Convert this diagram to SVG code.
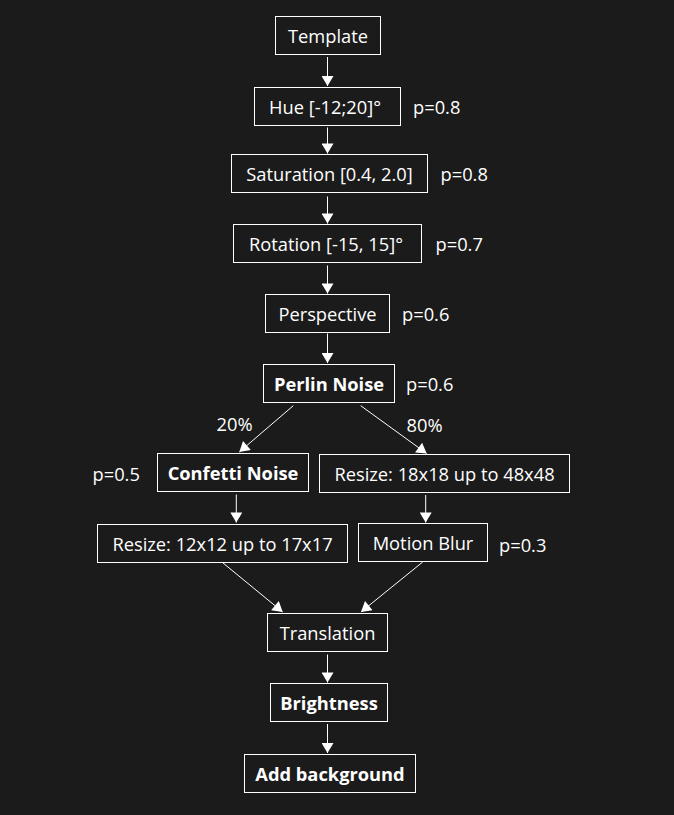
<svg xmlns="http://www.w3.org/2000/svg" width="674" height="815" viewBox="0 0 674 815">
<defs>
<style>
.bg{fill:#1b1b1b}
.node rect{fill:none;stroke:#ffffff;stroke-width:1}
text{font-family:"Open Sans","Noto Sans","Liberation Sans",sans-serif;font-size:18.3px;fill:#ffffff}
.node text{text-anchor:middle}
.b text{font-weight:bold}
.edges line{stroke:#ffffff;stroke-width:1;marker-end:url(#ah)}
</style>
<marker id="ah" markerUnits="userSpaceOnUse" markerWidth="12" markerHeight="12" viewBox="0 0 10 12" refX="10" refY="6" orient="auto">
<path d="M0,0 L10,6 L0,12 Z" fill="#ffffff"/>
</marker>
</defs>
<rect class="bg" x="0" y="0" width="674" height="815"/>
<g class="edges">
<line x1="327.5" y1="57" x2="327.5" y2="86"/>
<line x1="327.5" y1="127.5" x2="327.5" y2="153.5"/>
<line x1="327.5" y1="196.5" x2="327.5" y2="223.5"/>
<line x1="327.5" y1="265.5" x2="327.5" y2="293.5"/>
<line x1="327.5" y1="333.5" x2="327.5" y2="363"/>
<line x1="293.3" y1="405.7" x2="239.3" y2="452"/>
<line x1="360.7" y1="405.7" x2="426.7" y2="453.5"/>
<line x1="236.3" y1="494.5" x2="236.3" y2="522.5"/>
<line x1="425.7" y1="495" x2="425.7" y2="522.5"/>
<line x1="222.7" y1="562.7" x2="282.7" y2="612"/>
<line x1="422.7" y1="562" x2="361" y2="612"/>
<line x1="327.5" y1="654.5" x2="327.5" y2="682.5"/>
<line x1="327.5" y1="724" x2="327.5" y2="753"/>
</g>
<g id="template" class="node"><rect x="275.5" y="16.5" width="105" height="38"/><text x="328" y="42.5">Template</text></g>
<g id="hue" class="node"><rect x="254.5" y="87.5" width="146" height="38"/><text x="325" y="113.5">Hue [-12;20]°</text></g>
<g id="saturation" class="node"><rect x="231.5" y="154.5" width="196" height="38"/><text x="329.5" y="180.5">Saturation [0.4, 2.0]</text></g>
<g id="rotation" class="node"><rect x="233.5" y="224.5" width="188" height="38"/><text x="326" y="250.5">Rotation [-15, 15]°</text></g>
<g id="perspective" class="node"><rect x="265.5" y="294.5" width="124" height="38"/><text x="327.5" y="320.5">Perspective</text></g>
<g id="perlin" class="node b"><rect x="263.5" y="364.5" width="131" height="38"/><text x="329" y="390.5">Perlin Noise</text></g>
<g id="confetti" class="node b"><rect x="157.5" y="453.5" width="151" height="38"/><text x="233" y="479.5">Confetti Noise</text></g>
<g id="resize18" class="node"><rect x="319.5" y="454.5" width="250" height="38"/><text x="444.5" y="480.5">Resize: 18x18 up to 48x48</text></g>
<g id="resize12" class="node"><rect x="97.5" y="524.5" width="250" height="38"/><text x="222.5" y="550.5">Resize: 12x12 up to 17x17</text></g>
<g id="motionblur" class="node"><rect x="358.5" y="523.5" width="129" height="38"/><text x="423" y="549.5">Motion Blur</text></g>
<g id="translation" class="node"><rect x="267.5" y="613.5" width="120" height="38"/><text x="327.5" y="639.5">Translation</text></g>
<g id="brightness" class="node b"><rect x="270.5" y="683.5" width="117" height="38"/><text x="329" y="709.5">Brightness</text></g>
<g id="addbg" class="node b"><rect x="244.5" y="754.5" width="171" height="38"/><text x="330" y="780.5">Add background</text></g>
<g id="labels">
<text x="413" y="113.5">p=0.8</text>
<text x="440.5" y="180.5">p=0.8</text>
<text x="435.5" y="250.5">p=0.7</text>
<text x="402" y="320.5">p=0.6</text>
<text x="406" y="390.5">p=0.6</text>
<text x="92.5" y="480.5">p=0.5</text>
<text x="499" y="551.5">p=0.3</text>
<text x="216.5" y="430.5">20%</text>
<text x="406.5" y="431.5">80%</text>
</g>
</svg>
